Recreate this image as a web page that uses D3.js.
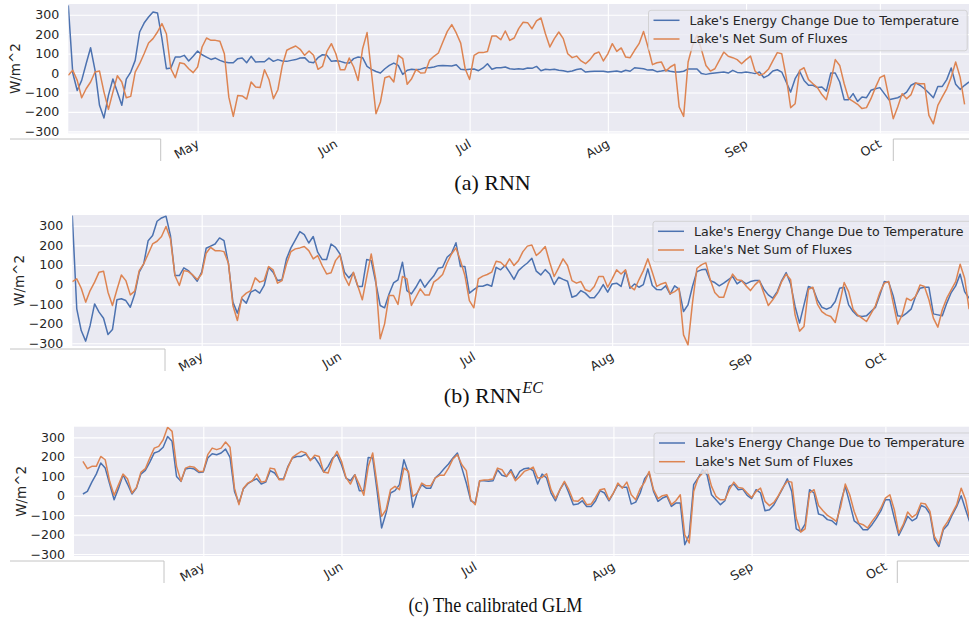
<!DOCTYPE html>
<html><head><meta charset="utf-8">
<script src="https://cdn.jsdelivr.net/npm/d3@7"></script>
<style>body{margin:0;background:#fff}svg{display:block}</style>
</head><body><svg id="chart" width="969" height="623"></svg>
<script>
// ---------------- data ----------------
const startDate = new Date(2019, 3, 2);       // first daily value (Apr 2)
const dayCount = 203;                          // days covered by the x axis
const monthTicks = ["May", "Jun", "Jul", "Aug", "Sep", "Oct"];
const yTicks = [-300, -200, -100, 0, 100, 200, 300];
const seriesNames = ["Lake's Energy Change Due to Temperature", "Lake's Net Sum of Fluxes"];
const yLabel = "W/m^2";

// (a) RNN
const rnnEnergy = [348,0,-90,-38,48,130,14,-166,-231,-115,-31,-98,-166,-31,5,65,211,257,288,314,309,177,22,26,82,82,91,62,86,113,94,82,70,77,65,57,53,53,74,77,53,86,57,58,58,77,60,69,62,60,65,69,77,79,57,53,79,94,91,60,63,60,53,51,74,82,79,34,
19,8,0,22,39,51,39,-7,14,19,17,20,27,27,31,38,39,38,36,43,19,17,19,21,12,26,48,19,27,27,31,22,19,22,19,26,24,34,12,19,17,19,14,12,7,10,18,22,5,8,9,9,9,5,8,10,5,14,9,27,25,22,15,17,7,
10,14,9,5,5,9,21,21,21,-3,-7,-3,0,3,5,0,14,3,2,5,2,-3,5,-24,-12,10,17,5,-46,-98,-29,9,-38,-63,-63,-75,-72,-93,0,0,-46,-137,-137,-106,-146,-123,-127,-89,-81,-75,-106,-137,-132,-127,-115,-98,-63,-51,-63,-81,-103,-127,-69,-69,-34,26,-58,-84,-63,-46];
const rnnFlux = [-12,14,-38,-127,-81,-46,5,10,-98,-187,-98,-14,-46,-127,-120,5,48,99,154,177,211,254,202,22,-24,53,48,22,2,31,134,180,168,168,163,99,-124,-223,-115,-118,-134,-46,-72,-75,17,-33,-132,-86,39,117,129,139,122,91,113,91,19,34,111,151,99,17,17,77,31,-38,125,208,
0,-209,-149,-24,-17,-46,91,74,-58,-29,19,0,2,65,86,103,160,214,249,206,154,22,-33,91,105,105,111,190,190,171,216,168,180,228,261,259,228,268,283,202,134,177,211,177,99,79,87,62,48,69,99,108,62,99,151,111,129,82,79,117,151,214,134,43,53,
57,10,31,45,
-175,-223,57,142,194,120,39,10,22,65,108,86,79,69,48,69,87,10,-12,-3,19,62,105,99,-21,-178,-158,14,27,-34,-55,-75,-111,-137,-46,69,39,-55,-132,-146,-161,-183,-178,-132,-75,-24,-12,-123,-235,-175,-106,-132,-111,-51,-55,-55,-218,-261,-166,-123,-81,-21,57,-21,-161];

// (b) RNN^EC
const ecEnergy = [352,-124,-235,-289,-209,-99,-141,-172,-255,-230,-78,-73,-82,-116,-48,63,105,224,250,323,340,349,250,46,46,85,71,46,17,63,185,196,207,238,224,105,-90,-146,-73,-95,-39,-27,-44,-5,88,63,20,24,131,187,228,270,255,212,245,165,128,128,207,190,156,63,34,60,-10,-10,128,122,
12,-107,-119,-48,8,24,114,-31,-48,-14,26,-14,17,43,83,88,139,160,213,92,92,-44,-26,-9,-9,0,-9,88,75,97,63,26,71,92,110,134,68,49,76,54,0,37,26,17,-65,-56,-31,-44,-68,-68,-39,0,-39,3,7,-10,71,-19,3,-14,0,80,-5,-26,
-27,-7,-49,-7,-24,-138,-104,-10,66,75,78,20,10,-7,7,24,41,3,20,3,15,20,20,-24,-53,-70,-36,20,61,3,-112,-197,-104,-10,-19,-78,-116,-126,-117,-87,-19,-14,-104,-138,-160,-163,-160,-138,-117,-53,15,10,-58,-160,-163,-146,-126,-61,-19,-14,-14,-150,-155,-160,-95,-41,-7,53,-36,-70];
const ecFlux = [15,29,-19,-90,-31,12,63,68,-39,-107,-27,49,20,-53,-34,71,105,156,207,221,245,296,233,46,-5,71,66,49,26,54,160,190,173,173,168,109,-107,-184,-65,-44,-31,34,12,20,92,75,7,20,105,168,182,187,194,173,131,148,97,54,60,122,151,40,-5,63,-8,-78,40,156,
29,-277,-201,-56,-56,-102,41,29,-107,-65,-22,-53,-53,12,29,51,110,156,187,122,46,-82,-119,29,43,51,63,119,114,92,131,97,122,168,196,202,148,168,194,114,41,85,131,97,20,7,15,-27,-36,-10,41,41,-14,29,75,54,75,-10,-27,24,71,131,63,-10,
3,10,-48,-36,-19,-257,-308,-95,83,100,112,24,-41,-65,-65,3,53,24,20,-7,-31,-2,20,-44,-107,-78,-44,15,53,24,-155,-238,-214,-24,-14,-100,-138,-155,-163,-194,-95,10,-36,-126,-155,-172,-189,-150,-109,-41,7,15,-95,-202,-155,-70,-82,-61,-2,-10,-78,-172,-218,-129,-70,-27,15,104,32,-126];

// (c) The calibrated GLM (no values for the first two days)
const glmEnergy = [null,null,9,22,70,111,168,142,60,-21,39,108,60,9,39,111,130,173,220,228,249,305,280,99,74,137,142,137,120,122,194,216,211,220,240,197,22,-38,36,62,77,87,60,70,129,117,86,86,151,194,202,202,214,185,197,163,122,151,194,211,159,91,77,108,26,26,197,
194,22,-166,-89,14,26,57,185,117,-60,14,57,39,39,91,111,139,163,194,220,142,65,-26,-38,77,77,74,77,134,105,99,134,87,125,139,142,129,60,111,91,14,-26,31,69,14,-46,-43,-26,-55,-55,-26,26,14,-26,14,57,43,43,-43,-33,14,87,117,22,-29,
-12,-3,-55,-38,-38,-252,-201,57,91,134,108,5,-21,-46,-26,48,60,31,34,2,-15,31,14,-77,-72,-46,-3,39,87,22,-170,-184,-146,31,14,-94,-101,-123,-129,-149,-33,48,-38,-129,-146,-175,-175,-149,-115,-77,-21,-21,-115,-204,-158,-106,-129,-115,-50,-60,-94,-226,-261,-175,-149,-98,-55,0,-72,-141];
const glmFlux = [null,null,177,139,151,151,202,185,74,2,57,111,87,14,43,120,139,194,245,254,288,352,331,151,74,142,151,146,125,125,211,245,237,245,276,249,39,-46,39,65,77,111,70,74,142,137,82,82,146,197,214,228,220,180,208,202,122,117,185,228,177,94,60,108,57,2,150,
220,57,-106,-72,31,48,31,142,125,-3,14,65,51,51,91,105,105,142,189,211,159,129,-21,-46,77,81,82,86,142,134,99,125,77,99,125,134,147,91,94,113,31,-15,31,74,31,-26,-29,-9,-46,-43,-9,31,36,-21,14,65,39,70,5,-21,36,70,125,31,-15,
0,5,-46,-26,5,-201,-243,22,91,117,134,48,-3,-21,-21,31,70,43,39,14,-9,22,39,-29,-51,-34,0,43,74,70,-115,-187,-170,14,31,-50,-77,-101,-115,-132,-55,60,5,-81,-141,-149,-166,-132,-101,-63,-12,5,-72,-192,-149,-84,-111,-94,-38,-43,-81,-209,-249,-166,-132,-89,-46,39,-21,-132];

// ---------------- layout & style ----------------
const colors = ["#4c72b0", "#dd8452"];
const panels = [
  {energy: rnnEnergy, flux: rnnFlux, left: 68.3, right: 973.5, top: 4, bottom: 133.3, yDom: [-310, 355],
   caption: [{t: "(a) RNN"}], capY: 190, capX: 492.5, capSize: 22, capLen: null, boxY: 139, boxL: 160.7, boxR: 893.3},
  {energy: ecEnergy, flux: ecFlux, left: 72.3, right: 978, top: 215, bottom: 346, yDom: [-314, 355],
   caption: [{t: "(b) RNN"}, {t: "EC", sup: true}], capY: 403, capX: 493.4, capSize: 22, capLen: null, boxY: 349, boxL: 165, boxR: null},
  {energy: glmEnergy, flux: glmFlux, left: 74, right: 979, top: 426.7, bottom: 556, yDom: [-310, 355],
   caption: [{t: "(c) The calibrated GLM"}], capY: 612, capX: 495.5, capSize: 21, capLen: 174, boxY: 561, boxL: 164, boxR: 897.3}
];
const font = "'DejaVu Sans', sans-serif";
const svg = d3.select("#chart");
const endDate = d3.timeDay.offset(startDate, dayCount);
const tickDates = monthTicks.map((m, i) => new Date(2019, 4 + i, 1));

panels.forEach((p, pi) => {
  const x = d3.scaleTime().domain([startDate, endDate]).range([p.left, p.right]);
  const y = d3.scaleLinear().domain(p.yDom).range([p.bottom, p.top]);
  const g = svg.append("g");
  const clipId = "clip" + pi;
  g.append("clipPath").attr("id", clipId).append("rect")
    .attr("x", p.left).attr("y", p.top).attr("width", p.right - p.left).attr("height", p.bottom - p.top);

  g.append("rect").attr("x", p.left).attr("y", p.top)
    .attr("width", p.right - p.left).attr("height", p.bottom - p.top).attr("fill", "#eaeaf2");

  // grid
  const gx = d3.axisBottom(x).tickValues(tickDates).tickSize(-(p.bottom - p.top)).tickFormat("");
  g.append("g").attr("transform", `translate(0,${p.bottom})`).call(gx)
    .call(s => s.select(".domain").remove())
    .call(s => s.selectAll("line").attr("stroke", "#fff").attr("stroke-width", 1.1));
  const gy = d3.axisLeft(y).tickValues(yTicks).tickSize(-(p.right - p.left)).tickFormat("");
  g.append("g").attr("transform", `translate(${p.left},0)`).call(gy)
    .call(s => s.select(".domain").remove())
    .call(s => s.selectAll("line").attr("stroke", "#fff").attr("stroke-width", 1.1));

  // y tick labels
  const ya = d3.axisLeft(y).tickValues(yTicks).tickSize(0).tickPadding(9)
    .tickFormat(d => d < 0 ? "\u2212" + Math.abs(d) : String(d));
  g.append("g").attr("transform", `translate(${p.left},0)`).call(ya)
    .call(s => s.select(".domain").remove())
    .call(s => s.selectAll("text").attr("font-family", font).attr("font-size", 12.6).attr("fill", "#262626"));

  // x tick labels (rotated)
  const xa = d3.axisBottom(x).tickValues(tickDates).tickSize(0).tickFormat((d, i) => monthTicks[i]);
  g.append("g").attr("transform", `translate(0,${p.bottom})`).call(xa)
    .call(s => s.select(".domain").remove())
    .call(s => s.selectAll("text").attr("font-family", font).attr("font-size", 12.6).attr("fill", "#262626")
      .attr("text-anchor", "end").attr("dy", null).attr("y", null)
      .attr("transform", "translate(2,13) rotate(-30)"));

  // y label
  g.append("text").attr("transform", `translate(${p.left - 48},${(p.top + p.bottom) / 2}) rotate(-90)`)
    .attr("text-anchor", "middle").attr("font-family", font).attr("font-size", 13.5).attr("fill", "#262626")
    .text(yLabel);

  // lines
  const line = d3.line().defined(d => d != null)
    .x((d, i) => x(d3.timeDay.offset(startDate, i))).y(d => y(d));
  const lg = g.append("g").attr("clip-path", `url(#${clipId})`);
  [p.energy, p.flux].forEach((s, si) => {
    lg.append("path").datum(s).attr("d", line).attr("fill", "none")
      .attr("stroke", colors[si]).attr("stroke-width", 1.5).attr("stroke-linejoin", "round");
  });

  // legend
  const legTop = p.top + 6.3, textX = p.right - 284, legL = textX - 41, legR = p.right - 6.3;
  g.append("rect").attr("x", legL).attr("y", legTop).attr("width", legR - legL).attr("height", 40.5)
    .attr("rx", 2.5).attr("fill", "#eaeaf2").attr("fill-opacity", 0.8)
    .attr("stroke", "#cccccc").attr("stroke-opacity", 0.8).attr("stroke-width", 1);
  seriesNames.forEach((n, si) => {
    const ry = legTop + 10 + si * 18.7;
    g.append("line").attr("x1", legL + 5).attr("x2", legL + 31).attr("y1", ry).attr("y2", ry)
      .attr("stroke", colors[si]).attr("stroke-width", 1.5);
    g.append("text").attr("x", textX).attr("y", ry).attr("dy", "0.35em")
      .attr("font-family", font).attr("font-size", 12.6).attr("fill", "#262626").text(n);
  });

  // frame fragments of the composed figure
  const fr = g.append("g").attr("fill", "none").attr("stroke", "#c4c4c4").attr("stroke-width", 1);
  fr.append("path").attr("d", `M10,${p.boxY}H${p.boxL}V${p.boxY + 22}`);
  if (p.boxR) fr.append("path").attr("d", `M969,${p.boxY}H${p.boxR}V${p.boxY + 22}`);

  // caption
  const cap = svg.append("text").attr("x", p.capX).attr("y", p.capY).attr("text-anchor", "middle")
    .attr("font-family", "'Liberation Serif', 'Times New Roman', serif").attr("font-size", p.capSize).attr("fill", "#111");
  if (p.capLen) cap.attr("textLength", p.capLen).attr("lengthAdjust", "spacingAndGlyphs");
  p.caption.forEach(c => {
    const t = cap.append("tspan").text(c.t);
    if (c.sup) t.attr("font-size", 16).attr("font-style", "italic").attr("dx", 1).attr("dy", -10);
  });
});
</script></body></html>
